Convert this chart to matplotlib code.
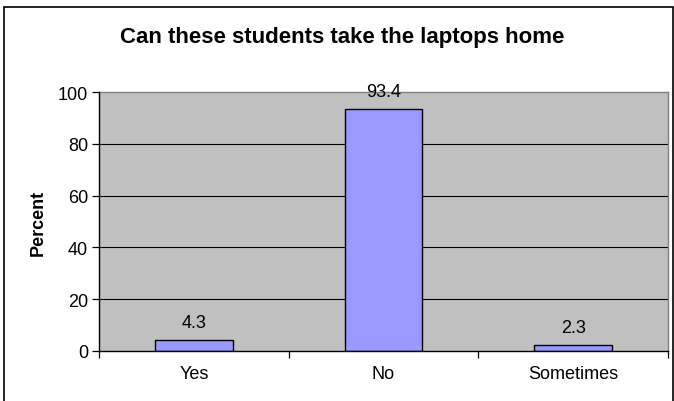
import matplotlib.pyplot as plt
from matplotlib.patches import Rectangle

# data
categories = ['Yes', 'No', 'Sometimes']
percent = [4.3, 93.4, 2.3]
yticks = [0, 20, 40, 60, 80, 100]

plt.rcParams['font.family'] = ['Liberation Sans', 'DejaVu Sans']

W, H = 674, 402
fig = plt.figure(figsize=(W / 100, H / 100), dpi=100)

# outer chart frame (bottom edge runs off the page)
fig.patches.append(Rectangle((4 / W, -0.01), 669 / W, 1 - 8 / H + 0.01,
                             transform=fig.transFigure, fill=False,
                             edgecolor='black', linewidth=1.2))

# plot area in pixels: left 99, right 668, top 93, bottom 352
ax = fig.add_axes([99 / W, 1 - 352 / H, 569 / W, (352 - 93) / H])
ax.set_facecolor('#C0C0C0')

x = list(range(len(categories)))
ax.bar(x, percent, width=0.41, color='#9999FF', edgecolor='black',
       linewidth=1.0, zorder=3)
for xi, v in zip(x, percent):
    ax.annotate(f'{v}', (xi, v), xytext=(0, 9.5), textcoords='offset points',
                ha='center', va='baseline', fontsize=13)

ax.set_xlim(-0.5, len(categories) - 0.5)
ax.set_ylim(0, 100)
ax.set_yticks(yticks)
ax.tick_params(axis='y', labelsize=13, length=5, width=0.9, pad=3)
for y in yticks[1:-1]:
    ax.axhline(y, color='black', linewidth=0.8, zorder=1)

# x ticks sit on the category boundaries, labels at the centres
ax.set_xticks([-0.5, 0.5, 1.5, 2.5])
ax.set_xticklabels([])
ax.set_xticks(x, minor=True)
ax.set_xticklabels(categories, minor=True, fontsize=13)
ax.tick_params(axis='x', which='major', length=5, width=0.9)
ax.tick_params(axis='x', which='minor', length=0, pad=10)

for s in ['top', 'right']:
    ax.spines[s].set_color('#808080')
    ax.spines[s].set_linewidth(1.0)
for s in ['left', 'bottom']:
    ax.spines[s].set_linewidth(1.0)
    ax.spines[s].set_zorder(4)

ax.set_ylabel('Percent', fontsize=13, fontweight='bold', labelpad=8)
fig.text(342 / W, 1 - 43 / H, 'Can these students take the laptops home',
         ha='center', va='baseline', fontsize=16, fontweight='bold')

fig.savefig('out.png', dpi=100)
